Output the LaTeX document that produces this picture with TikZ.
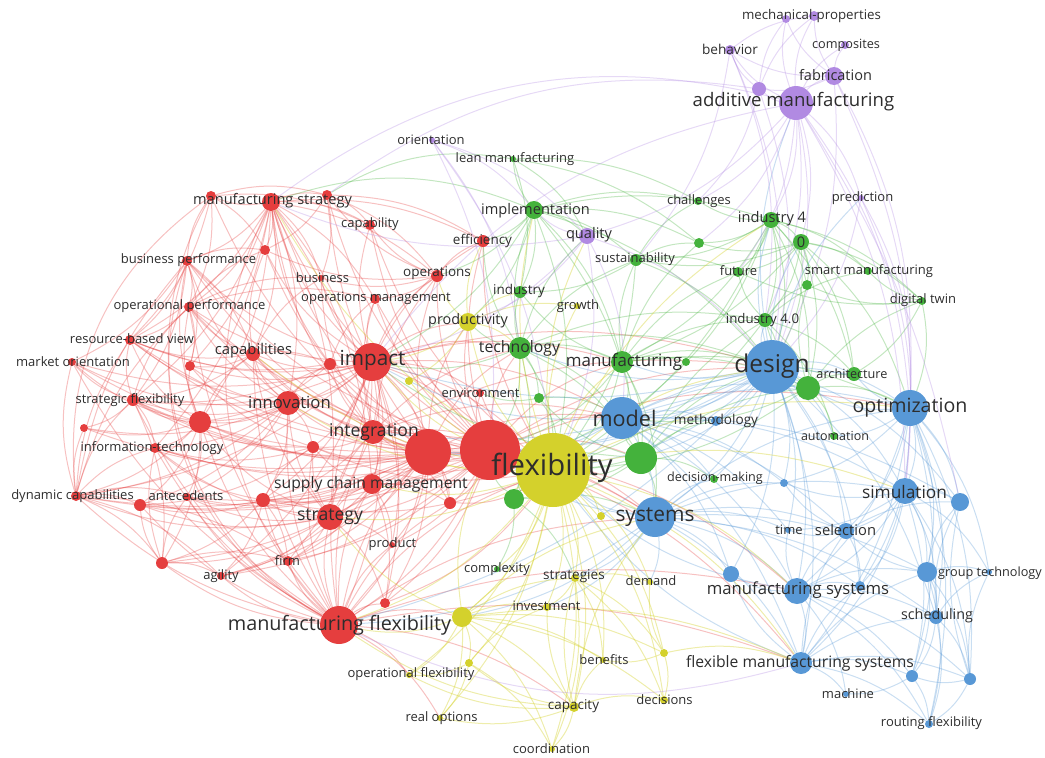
\documentclass[tikz,border=0pt]{standalone}
\usepackage{fontspec}
\usepackage{xcolor}
\usepackage{tikz}
\setmainfont{Open Sans}
\definecolor{vosred}{RGB}{229,62,62}
\definecolor{vosgreen}{RGB}{68,178,60}
\definecolor{vosblue}{RGB}{88,152,214}
\definecolor{vosyellow}{RGB}{212,209,44}
\definecolor{vospurple}{RGB}{177,138,226}
\definecolor{labelgray}{RGB}{45,45,45}
\pgfdeclarelayer{edges}
\pgfsetlayers{edges,main}
\tikzset{
  rdot/.style={circle, fill=vosred, inner sep=0pt, minimum size=#1pt},
  gdot/.style={circle, fill=vosgreen, inner sep=0pt, minimum size=#1pt},
  bdot/.style={circle, fill=vosblue, inner sep=0pt, minimum size=#1pt},
  ydot/.style={circle, fill=vosyellow, inner sep=0pt, minimum size=#1pt},
  pdot/.style={circle, fill=vospurple, inner sep=0pt, minimum size=#1pt},
  kwlabel/.style={text=labelgray, inner sep=0pt, font=\fontsize{#1}{#1}\selectfont},
  redge/.style={draw=vosred, draw opacity=0.32, line width=1pt, bend left=15},
  gedge/.style={draw=vosgreen, draw opacity=0.32, line width=1pt, bend left=15},
  bedge/.style={draw=vosblue, draw opacity=0.32, line width=1pt, bend left=15},
  yedge/.style={draw=vosyellow, draw opacity=0.4, line width=1pt, bend left=15},
  pedge/.style={draw=vospurple, draw opacity=0.32, line width=1pt, bend left=15}
}
\begin{document}
\begin{tikzpicture}[x=1pt,y=-1pt]
  \useasboundingbox (0,0) rectangle (1045,758);
  % red cluster
  \node[rdot=60] at(490,450)(rbig1){};
  \node[rdot=46] at(428,452)(rbig2){};
  \node[rdot=38] at(372,362)(impact){};
  \node[rdot=24] at(373,432)(integ){};
  \node[rdot=24] at(288,403)(innov){};
  \node[rdot=14] at(253,354)(capab){};
  \node[rdot=12] at(330,364)(r1){};
  \node[rdot=22] at(200,422)(r2){};
  \node[rdot=12] at(133,400)(stratflex){};
  \node[rdot=8] at(84,428)(r3){};
  \node[rdot=10] at(155,448)(infotech){};
  \node[rdot=10] at(76,496)(dyncap){};
  \node[rdot=8] at(187,497)(antec){};
  \node[rdot=12] at(140,505)(r4){};
  \node[rdot=14] at(263,500)(r5){};
  \node[rdot=20] at(372,484)(scm){};
  \node[rdot=12] at(450,503)(r6){};
  \node[rdot=12] at(313,447)(r7){};
  \node[rdot=26] at(330,517)(strategy){};
  \node[rdot=6] at(392,545)(product){};
  \node[rdot=10] at(288,561)(firm){};
  \node[rdot=8] at(221,576)(agility){};
  \node[rdot=12] at(162,563)(r8){};
  \node[rdot=38] at(339,625)(mflex){};
  \node[rdot=10] at(385,603)(r9){};
  \node[rdot=18] at(271,202)(mstrat){};
  \node[rdot=10] at(211,196)(r10){};
  \node[rdot=10] at(327,195)(r11){};
  \node[rdot=10] at(370,225)(capability){};
  \node[rdot=10] at(265,250)(r12){};
  \node[rdot=10] at(187,261)(busperf){};
  \node[rdot=6] at(321,278)(business){};
  \node[rdot=12] at(437,276)(operations){};
  \node[rdot=10] at(375,299)(opsmgmt){};
  \node[rdot=10] at(189,307)(opperf){};
  \node[rdot=12] at(483,241)(efficiency){};
  \node[rdot=10] at(130,340)(rbv){};
  \node[rdot=8] at(72,362)(mktor){};
  \node[rdot=10] at(190,366)(r13){};
  \node[rdot=8] at(480,393)(environment){};
  % green cluster
  \node[gdot=6] at(513,159)(leanmfg){};
  \node[gdot=18] at(534,210)(implem){};
  \node[gdot=12] at(520,292)(industry){};
  \node[gdot=22] at(520,348)(technology){};
  \node[gdot=12] at(636,260)(sustain){};
  \node[gdot=8] at(698,201)(challenges){};
  \node[gdot=10] at(699,243)(g1){};
  \node[gdot=16] at(771,220)(ind4){};
  \node[gdot=16] at(801,242)(zero){};
  \node[gdot=10] at(738,272)(future){};
  \node[gdot=10] at(807,285)(g2){};
  \node[gdot=8] at(868,271)(smartmfg){};
  \node[gdot=8] at(922,301)(digitaltwin){};
  \node[gdot=14] at(765,320)(ind40){};
  \node[gdot=22] at(622,362)(manufacturing){};
  \node[gdot=8] at(686,362)(g3){};
  \node[gdot=14] at(854,374)(architecture){};
  \node[gdot=24] at(808,388)(g4){};
  \node[gdot=32] at(641,458)(g5){};
  \node[gdot=8] at(834,436)(automation){};
  \node[gdot=10] at(539,398)(g6){};
  \node[gdot=20] at(514,499)(g7){};
  \node[gdot=6] at(497,569)(complexity){};
  \node[gdot=8] at(714,479)(decmak){};
  % blue cluster
  \node[bdot=54] at(772,367)(design){};
  \node[bdot=42] at(622,418)(model){};
  \node[bdot=40] at(655,517)(systems){};
  \node[bdot=36] at(910,408)(optim){};
  \node[bdot=10] at(716,421)(methodology){};
  \node[bdot=26] at(905,491)(simulation){};
  \node[bdot=18] at(960,502)(b1){};
  \node[bdot=8] at(784,483)(b2){};
  \node[bdot=6] at(788,530)(time){};
  \node[bdot=16] at(846,531)(selection){};
  \node[bdot=26] at(797,591)(msys){};
  \node[bdot=16] at(731,574)(b3){};
  \node[bdot=10] at(860,586)(b4){};
  \node[bdot=20] at(927,572)(b5){};
  \node[bdot=6] at(989,572)(grouptech){};
  \node[bdot=14] at(936,617)(scheduling){};
  \node[bdot=22] at(801,663)(fms){};
  \node[bdot=12] at(912,676)(b6){};
  \node[bdot=12] at(970,679)(b7){};
  \node[bdot=6] at(846,694)(machine){};
  \node[bdot=8] at(929,724)(routing){};
  % yellow cluster
  \node[ydot=74] at(553,470)(flex){};
  \node[ydot=18] at(468,322)(productivity){};
  \node[ydot=6] at(577,306)(growth){};
  \node[ydot=8] at(409,381)(y1){};
  \node[ydot=8] at(601,516)(y2){};
  \node[ydot=8] at(575,578)(strategies){};
  \node[ydot=6] at(650,582)(demand){};
  \node[ydot=8] at(547,607)(investment){};
  \node[ydot=20] at(462,617)(y3){};
  \node[ydot=8] at(469,663)(y4){};
  \node[ydot=8] at(664,653)(y5){};
  \node[ydot=6] at(409,675)(opflex){};
  \node[ydot=6] at(603,660)(benefits){};
  \node[ydot=6] at(440,718)(realopt){};
  \node[ydot=10] at(574,707)(capacity){};
  \node[ydot=8] at(664,700)(decisions){};
  \node[ydot=6] at(552,749)(coord){};
  % purple cluster
  \node[pdot=34] at(796,103)(addmfg){};
  \node[pdot=18] at(834,76)(fabrication){};
  \node[pdot=14] at(759,89)(p1){};
  \node[pdot=10] at(730,50)(behavior){};
  \node[pdot=10] at(814,16)(mechprop){};
  \node[pdot=8] at(786,19)(p2){};
  \node[pdot=8] at(845,45)(composites){};
  \node[pdot=6] at(861,198)(prediction){};
  \node[pdot=6] at(432,140)(orientation){};
  \node[pdot=16] at(587,236)(quality){};

  % labels
  \node[kwlabel=20.7] at(372.5,360)(impact-t){impact};
  \node[kwlabel=17.6] at(374,432)(integ-t){integration};
  \node[kwlabel=16.7] at(289.5,402)(innov-t){innovation};
  \node[kwlabel=14.8] at(253.5,351)(capab-t){capabilities};
  \node[kwlabel=13] at(130,400)(stratflex-t){strategic flexibility};
  \node[kwlabel=13] at(152,448)(infotech-t){information-technology};
  \node[kwlabel=13] at(72.5,496)(dyncap-t){dynamic capabilities};
  \node[kwlabel=13] at(186,496)(antec-t){antecedents};
  \node[kwlabel=15.7] at(371,484)(scm-t){supply chain management};
  \node[kwlabel=17.6] at(330,517)(strategy-t){strategy};
  \node[kwlabel=13] at(392.5,544)(product-t){product};
  \node[kwlabel=13] at(287.5,561)(firm-t){firm};
  \node[kwlabel=13] at(221,576)(agility-t){agility};
  \node[kwlabel=19.8] at(339.5,625)(mflex-t){manufacturing flexibility};
  \node[kwlabel=14.6] at(272.5,201)(mstrat-t){manufacturing strategy};
  \node[kwlabel=13] at(370,224)(capability-t){capability};
  \node[kwlabel=13] at(188.5,260)(busperf-t){business performance};
  \node[kwlabel=13] at(322.5,278)(business-t){business};
  \node[kwlabel=13.5] at(437,273)(operations-t){operations};
  \node[kwlabel=13] at(376,298)(opsmgmt-t){operations management};
  \node[kwlabel=13] at(189.5,306)(opperf-t){operational performance};
  \node[kwlabel=13.5] at(482.5,241)(efficiency-t){efficiency};
  \node[kwlabel=13] at(132,339)(rbv-t){resource-based view};
  \node[kwlabel=13] at(73,362)(mktor-t){market orientation};
  \node[kwlabel=13] at(480.5,393)(environment-t){environment};
  \node[kwlabel=13] at(431,140)(orientation-t){orientation};
  \node[kwlabel=13] at(515,159)(leanmfg-t){lean manufacturing};
  \node[kwlabel=14.6] at(535.5,211)(implem-t){implementation};
  \node[kwlabel=14.4] at(468,321)(productivity-t){productivity};
  \node[kwlabel=13.5] at(519,291)(industry-t){industry};
  \node[kwlabel=15.8] at(519.5,348)(technology-t){technology};
  \node[kwlabel=13] at(578,306)(growth-t){growth};
  \node[kwlabel=14.6] at(589,235)(quality-t){quality};
  \node[kwlabel=13] at(635,259)(sustain-t){sustainability};
  \node[kwlabel=13] at(699,201)(challenges-t){challenges};
  \node[kwlabel=14.6] at(772,219)(ind4-t){industry 4};
  \node[kwlabel=14.6] at(801,242)(zero-t){0};
  \node[kwlabel=13] at(738.5,271)(future-t){future};
  \node[kwlabel=13] at(869,271)(smartmfg-t){smart manufacturing};
  \node[kwlabel=13] at(923,300)(digitaltwin-t){digital twin};
  \node[kwlabel=13] at(862.5,198)(prediction-t){prediction};
  \node[kwlabel=13.3] at(762.5,320)(ind40-t){industry 4.0};
  \node[kwlabel=16.9] at(624,362)(manufacturing-t){manufacturing};
  \node[kwlabel=24.5] at(772,366)(design-t){design};
  \node[kwlabel=12.7] at(852,374)(architecture-t){architecture};
  \node[kwlabel=21.6] at(624.5,418)(model-t){model};
  \node[kwlabel=13.6] at(716,421)(methodology-t){methodology};
  \node[kwlabel=19.6] at(910,408)(optim-t){optimization};
  \node[kwlabel=12.5] at(835,436)(automation-t){automation};
  \node[kwlabel=29.3] at(552,468)(flex-t){flexibility};
  \node[kwlabel=12.6] at(715,478)(decmak-t){decision-making};
  \node[kwlabel=17.3] at(904.5,492)(simulation-t){simulation};
  \node[kwlabel=20.9] at(655,517)(systems-t){systems};
  \node[kwlabel=13] at(789,530)(time-t){time};
  \node[kwlabel=14.7] at(845.5,530)(selection-t){selection};
  \node[kwlabel=13] at(497,569)(complexity-t){complexity};
  \node[kwlabel=13.6] at(574,576)(strategies-t){strategies};
  \node[kwlabel=13] at(651,581)(demand-t){demand};
  \node[kwlabel=13] at(546.5,606)(investment-t){investment};
  \node[kwlabel=16.7] at(798,590)(msys-t){manufacturing systems};
  \node[kwlabel=12.7] at(990,573)(grouptech-t){group technology};
  \node[kwlabel=14.3] at(937,616)(scheduling-t){scheduling};
  \node[kwlabel=13] at(411,674)(opflex-t){operational flexibility};
  \node[kwlabel=13] at(604,660)(benefits-t){benefits};
  \node[kwlabel=15.7] at(800,663)(fms-t){flexible manufacturing systems};
  \node[kwlabel=13] at(664.5,700)(decisions-t){decisions};
  \node[kwlabel=13] at(848,694)(machine-t){machine};
  \node[kwlabel=13.5] at(573.5,706)(capacity-t){capacity};
  \node[kwlabel=13] at(441.5,718)(realopt-t){real options};
  \node[kwlabel=13] at(931.5,723)(routing-t){routing flexibility};
  \node[kwlabel=13] at(551.5,749)(coord-t){coordination};
  \node[kwlabel=18.6] at(793.5,102)(addmfg-t){additive manufacturing};
  \node[kwlabel=14.5] at(835.5,75)(fabrication-t){fabrication};
  \node[kwlabel=13.6] at(730,49)(behavior-t){behavior};
  \node[kwlabel=13.3] at(811.5,16)(mechprop-t){mechanical-properties};
  \node[kwlabel=12.7] at(846,45)(composites-t){composites};

  \begin{pgfonlayer}{edges}
  % red links
  \draw[redge] (impact) edge (flex) edge (rbig1) edge (rbig2) edge (integ) edge (innov) edge (capab) edge (mstrat) edge (strategy) edge (scm) edge (mflex) edge (r2) edge (stratflex) edge (busperf) edge (opperf) edge (rbv) edge (dyncap) edge (operations) edge (efficiency) edge (technology) edge (productivity) edge (model) edge (r1) edge (capability) edge (mktor);
  \draw[redge] (impact) edge (environment) edge (opsmgmt) edge (business) edge (r12) edge (r13) edge (r5) edge (r7) edge (r6) edge (firm) edge (agility) edge (product) edge (r9) edge (design) edge (manufacturing);
  \draw[redge] (rbig1) edge (flex) edge (rbig2) edge (integ) edge (innov) edge (strategy) edge (scm) edge (mflex) edge (mstrat) edge (capab) edge (r2) edge (r5) edge (dyncap) edge (infotech) edge (firm) edge (agility) edge (capability) edge (operations) edge (opsmgmt) edge (design) edge (model) edge (systems) edge (technology) edge (r6) edge (r11) edge (busperf);
  \draw[redge] (rbig1) edge (environment) edge (efficiency) edge (productivity) edge (manufacturing) edge (g5) edge (msys) edge (fms) edge (optim) edge (r9) edge (product) edge (stratflex) edge (rbv) edge (opperf);
  \draw[redge] (rbig2) edge (flex) edge (integ) edge (innov) edge (strategy) edge (scm) edge (mflex) edge (mstrat) edge (capab) edge (r2) edge (r4) edge (antec) edge (r8) edge (stratflex) edge (rbv) edge (busperf) edge (opperf) edge (r12) edge (r10) edge (r11) edge (r7) edge (mktor) edge (r3);
  \draw[redge] (rbig2) edge (r5) edge (r6) edge (r9) edge (product) edge (firm) edge (agility) edge (dyncap) edge (infotech) edge (technology) edge (model) edge (systems) edge (operations) edge (productivity);
  \draw[redge] (mflex) edge (flex) edge (strategy) edge (r2) edge (r4) edge (r8) edge (dyncap) edge (agility) edge (firm) edge (stratflex) edge (infotech) edge (product) edge (r9) edge (innov) edge (capab) edge (scm) edge (integ) edge (antec) edge (r5) edge (mktor) edge (opperf) edge[bend left=35] (mstrat) edge[bend left=40] (busperf) edge[bend left=45] (r10);
  \draw[redge] (mflex) edge (msys) edge (fms) edge (systems) edge (y3) edge (capacity) edge (opflex) edge (realopt) edge (rbig2) edge (impact) edge (r6) edge (r7);
  \draw[redge] (mstrat) edge (r10) edge (r11) edge (capability) edge (r12) edge (busperf) edge (opperf) edge (business) edge (opsmgmt) edge (operations) edge (strategy) edge (innov) edge (capab) edge (r2) edge (integ) edge (efficiency) edge (rbv) edge (r13) edge (scm) edge (stratflex) edge (infotech);
  \draw[redge] (strategy) edge (flex) edge (integ) edge (innov) edge (scm) edge (r5) edge (r7) edge (firm) edge (agility) edge (product) edge (r9) edge (r4) edge (dyncap) edge (antec) edge (capab) edge (r8) edge (r2) edge (infotech);
  \draw[redge] (innov) edge (integ) edge (capab) edge (r1) edge (r2) edge (stratflex) edge (infotech) edge (dyncap) edge (rbv) edge (mktor) edge (r13) edge (opperf) edge (busperf) edge (r7) edge (r5) edge (r4) edge (r3) edge (antec);
  \draw[redge] (integ) edge (scm) edge (r7) edge (r6) edge (r5) edge (capab) edge (r1) edge (opsmgmt) edge (flex) edge (operations) edge (business) edge (design) edge (model) edge (systems) edge (technology) edge (mstrat);
  \draw[redge] (r2) edge (stratflex) edge (r3) edge (infotech) edge (dyncap) edge (rbv) edge (mktor) edge (antec) edge (r4) edge (r13) edge (capab) edge (opperf) edge (r8) edge (busperf);
  \draw[redge] (dyncap) edge (stratflex) edge (r3) edge (infotech) edge (antec) edge (r4) edge (r8) edge (agility) edge (rbv) edge (mktor) edge (firm) edge[bend left=30] (r10) edge (opperf) edge (busperf);
  \draw[redge] (busperf) edge (opperf) edge (rbv) edge (r13) edge (capab) edge (r10) edge (r12) edge (mktor) edge (stratflex);
  \draw[redge] (scm) edge (r6) edge (r9) edge (product) edge (firm) edge (agility) edge (flex) edge (r5) edge (antec) edge (r7);
  \draw[redge] (capab) edge (rbv) edge (r13) edge (opperf) edge (r1) edge (business) edge (r12) edge (stratflex);
  \draw[redge] (operations) edge (opsmgmt) edge (efficiency) edge (capability) edge (business) edge (r11) edge (r12);
  \draw[redge] (flex) edge (environment) edge (opsmgmt) edge (efficiency) edge (r6) edge (r7) edge (r9) edge (capability) edge (r1) edge (r5);
  \draw[redge] (r1) edge (r2) edge (mstrat) edge (opsmgmt) edge (rbv) edge (stratflex);
  \draw[redge] (r5) edge (r4) edge (antec) edge (infotech) edge (r8) edge (agility) edge (firm) edge (r7);
  \draw[redge] (r7) edge (r4) edge (infotech) edge (stratflex) edge (r13);
  \draw[redge] (stratflex) edge (r3) edge (infotech) edge (rbv) edge (mktor) edge (opperf) edge (r8);
  \draw[redge] (r8) edge (agility) edge (antec) edge (r4) edge (infotech) edge (firm);
  \draw[redge] (opperf) edge (rbv) edge (r13) edge (r12) edge (opsmgmt) edge (business);
  \draw[redge] (r10) edge (r12) edge (opperf) edge (rbv) edge (r11) edge (capability);
  \draw[redge] (r11) edge (capability) edge (operations) edge (efficiency) edge (r12) edge (business);
  % green links
  \draw[gedge] (technology) edge (flex) edge (implem) edge (industry) edge (manufacturing) edge (design) edge (g5) edge (g6) edge (productivity) edge (sustain) edge (ind40) edge (model) edge (g7) edge (rbig1) edge (impact) edge (efficiency) edge (quality);
  \draw[gedge] (implem) edge (leanmfg) edge (industry) edge (quality) edge (sustain) edge (challenges) edge (efficiency) edge (g1) edge (manufacturing) edge (design) edge (ind4) edge (flex) edge (g5) edge (productivity) edge (impact) edge (operations);
  \draw[gedge] (mstrat) edge[bend left=20] (implem) (r11) edge[bend left=20] (leanmfg);
  \draw[gedge] (ind4) edge (zero) edge (future) edge (g1) edge (challenges) edge (ind40) edge (design) edge (g2) edge (smartmfg) edge (digitaltwin) edge (sustain) edge (manufacturing) edge (g4) edge (flex) edge (model) edge (architecture);
  \draw[gedge] (zero) edge (future) edge (g2) edge (smartmfg) edge (digitaltwin) edge (ind40) edge (design) edge (architecture) edge (g4) edge (sustain) edge (g1) edge (optim) edge (manufacturing);
  \draw[gedge] (manufacturing) edge (g3) edge (design) edge (model) edge (g5) edge (flex) edge (ind40) edge (future) edge (sustain) edge (g1) edge (g4) edge (industry) edge (systems) edge (rbig1) edge (optim);
  \draw[gedge] (g4) edge (design) edge (architecture) edge (automation) edge (optim) edge (ind40) edge (digitaltwin) edge (g2) edge (model) edge (flex);
  \draw[gedge] (g5) edge (model) edge (flex) edge (systems) edge (design) edge (decmak) edge (g7) edge (g6) edge (methodology) edge (rbig1) edge (impact) edge (g4) edge (ind40);
  \draw[gedge] (g7) edge (flex) edge (complexity) edge (strategies) edge (model) edge (systems) edge (rbig1);
  \draw[gedge] (leanmfg) edge (industry) edge (quality) edge (challenges) edge (g1);
  \draw[gedge] (digitaltwin) edge (smartmfg) edge (architecture) edge (optim) edge (g2) edge (future);
  \draw[gedge] (sustain) edge (challenges) edge (g1) edge (future) edge (flex) edge (design) edge (industry);
  \draw[gedge] (ind40) edge (design) edge (future) edge (g2) edge (smartmfg) edge (architecture) edge (automation) edge (flex);
  \draw[gedge] (g6) edge (flex) edge (environment) edge (model);
  % blue links
  \draw[bedge] (design) edge (model) edge (systems) edge (optim) edge (methodology) edge (simulation) edge (msys) edge (selection) edge (architecture) edge (automation) edge (b1) edge (b2) edge (decmak) edge (time) edge (fms) edge (flex) edge (b3) edge (b4) edge (scheduling) edge (prediction);
  \draw[bedge] (design) edge (impact) edge (rbig1) edge (integ) edge (manufacturing) edge (technology) edge (ind40) edge (g5) edge (mflex) edge (zero) edge (ind4) edge (addmfg) edge (rbig2);
  \draw[bedge] (model) edge (systems) edge (optim) edge (simulation) edge (methodology) edge (decmak) edge (msys) edge (flex) edge (b3) edge (selection) edge (fms) edge (b2) edge (time) edge (rbig1) edge (rbig2) edge (impact) edge (g4) edge (architecture) edge (b1);
  \draw[bedge] (systems) edge (msys) edge (fms) edge (b3) edge (selection) edge (simulation) edge (time) edge (flex) edge (demand) edge (optim) edge (b4) edge (scheduling) edge (b5) edge (rbig1) edge (mflex) edge (y3) edge (strategies) edge (investment) edge (b2) edge (decmak);
  \draw[bedge] (optim) edge (simulation) edge (b1) edge (selection) edge (b5) edge (grouptech) edge (scheduling) edge (b4) edge (b6) edge (b7) edge (routing) edge (msys) edge (automation) edge (b2) edge (fms) edge (architecture) edge (g4);
  \draw[bedge] (simulation) edge (b1) edge (selection) edge (msys) edge (b5) edge (scheduling) edge (b4) edge (b6) edge (fms) edge (grouptech) edge (b7) edge (b2) edge (time);
  \draw[bedge] (msys) edge (fms) edge (b3) edge (b4) edge (b5) edge (scheduling) edge (selection) edge (machine) edge (time) edge (b6) edge (routing) edge (flex) edge (b7);
  \draw[bedge] (fms) edge (machine) edge (b6) edge (b7) edge (routing) edge (b5) edge (scheduling) edge (b3) edge (flex) edge (b4) edge (selection);
  \draw[bedge] (b5) edge (grouptech) edge (scheduling) edge (b6) edge (b7) edge (routing) edge (b1) edge (selection);
  \draw[bedge] (scheduling) edge (b7) edge (routing) edge (b6) edge (grouptech) edge (b1);
  \draw[bedge] (b7) edge (routing) edge (grouptech) edge (b1) edge (b6);
  \draw[bedge] (b6) edge (routing) edge (machine);
  \draw[bedge] (selection) edge (b4) edge (time) edge (b2) edge (b1);
  % yellow links
  \draw[yedge] (flex) edge (productivity) edge (y1) edge (y2) edge (strategies) edge (investment) edge (y3) edge (capacity) edge (benefits) edge (demand) edge (decisions) edge (coord) edge (realopt) edge (opflex) edge (y4) edge (complexity) edge (growth) edge (y5) edge (mflex) edge (strategy);
  \draw[yedge] (flex) edge (design) edge (optim) edge (msys) edge (fms) edge (simulation) edge (technology) edge (manufacturing) edge (impact) edge (integ) edge (innov) edge (scm) edge (capab) edge (mstrat) edge (quality) edge (ind4) edge (implem);
  \draw[yedge] (y3) edge (investment) edge (capacity) edge (opflex) edge (realopt) edge (coord) edge (y4) edge (strategies) edge (benefits) edge (mflex) edge (decisions) edge (rbig1) edge (strategy) edge (systems) edge (fms) edge (y5);
  \draw[yedge] (capacity) edge (coord) edge (investment) edge (benefits) edge (decisions) edge (strategies) edge (realopt) edge (y4) edge (opflex) edge (mflex) edge (systems);
  \draw[yedge] (strategies) edge (investment) edge (benefits) edge (demand) edge (y5) edge (decisions) edge (coord);
  \draw[yedge] (y5) edge (decisions) edge (benefits) edge (fms) edge (demand);
  \draw[yedge] (productivity) edge (growth) edge (efficiency) edge (operations) edge (industry) edge (y1) edge (technology) edge (impact);
  \draw[yedge] (y4) edge (opflex) edge (realopt) edge (coord) edge (investment);
  % purple links
  \draw[pedge] (addmfg) edge (fabrication) edge (p1) edge (behavior) edge (mechprop) edge (p2) edge (composites) edge (prediction) edge (ind4) edge (design) edge (optim) edge (quality) edge (challenges) edge (simulation) edge (zero) edge (g1) edge (ind40) edge[bend left=10] (b1) edge (future);
  \draw[pedge] (fabrication) edge (composites) edge (mechprop) edge (p1) edge (p2) edge (behavior) edge (design) edge (optim) edge (simulation);
  \draw[pedge] (p1) edge (behavior) edge (p2) edge (mechprop) edge (design) edge (challenges);
  \draw[pedge] (behavior) edge (mechprop) edge (design) edge (ind40) edge (sustain);
  \draw[pedge] (prediction) edge (design) edge (optim) edge (simulation);
  \draw[pedge] (orientation) edge (flex) edge (implem) edge (quality) edge (rbig1) edge (technology);
  \draw[pedge] (quality) edge (flex) edge (implem) edge (design) edge (model) edge (impact) edge (mstrat) edge (productivity);
  \draw[pedge] (mstrat) edge[bend left=25] (addmfg) (impact) edge[bend left=20] (addmfg) (r11) edge[bend left=22] (p1) (mflex) edge[bend right=20] (fms);
  \end{pgfonlayer}
\end{tikzpicture}
\end{document}
